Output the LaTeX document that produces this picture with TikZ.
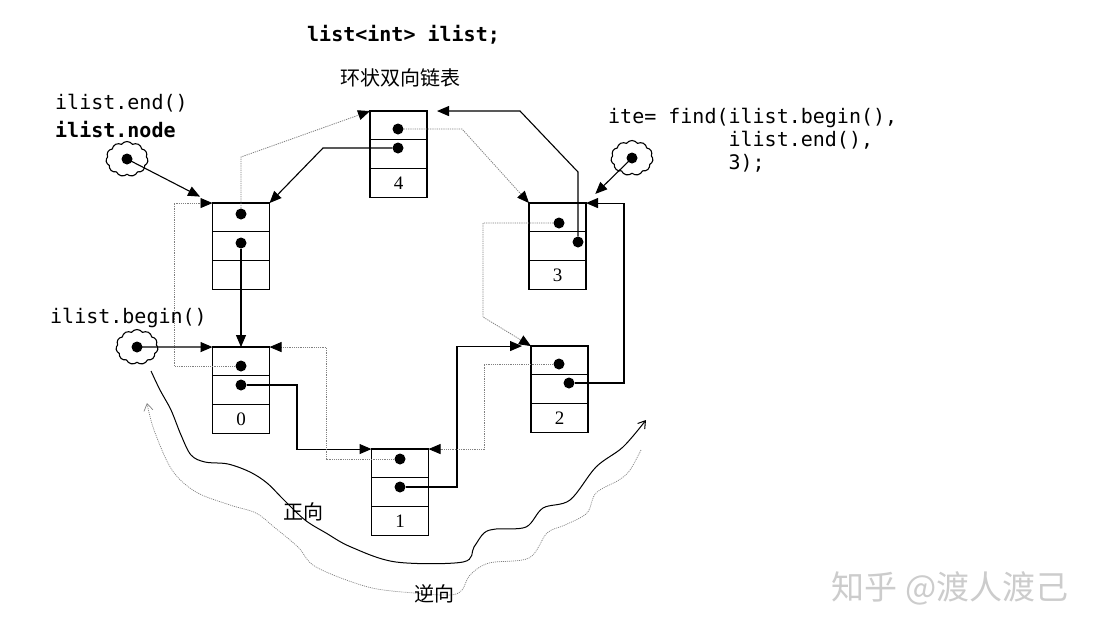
\documentclass[tikz,border=0pt]{standalone}
\usepackage{fontspec}
\setmainfont{Liberation Serif}
\setmonofont{DejaVu Sans Mono}
\newfontfamily\cjk{Noto Sans CJK SC}
\usetikzlibrary{positioning,arrows.meta,shapes.symbols}

\tikzset{
  cell/.style={draw, line width=1.3pt, minimum width=57pt, minimum height=28.7pt,
    inner sep=0pt, outer sep=0pt, font=\fontsize{19}{19}\selectfont},
  dot/.style={circle, fill, inner sep=0pt, minimum size=11pt},
  tip/.style={-{Triangle[length=12pt,width=10pt,color=black,fill=black]}},
  nxt/.style={tip, line width=1.1pt},
  prv/.style={tip, draw=gray, line width=0.8pt, dash pattern=on 1.2pt off 1pt},
  cloudy/.style={cloud, draw, cloud puffs=11, cloud puff arc=110, cloud ignores aspect,
    minimum width=42pt, minimum height=35pt, inner sep=0pt, line width=1.1pt},
  code/.style={font=\ttfamily\fontsize{20}{23}\selectfont, inner sep=0pt},
  cjklabel/.style={font=\cjk\fontsize{20}{20}\selectfont, inner sep=0pt},
}

\begin{document}
\begin{tikzpicture}[x=1pt, y=-1pt]
  \fill[white] (0,0) rectangle (1097,635);
  \useasboundingbox (0,0) rectangle (1097,635);

  % list nodes
  \foreach \n/\x/\y/\v in {e/241/217.4/{}, n4/398.5/125.4/4, n3/557.5/217.4/3,
                           n0/241/361.4/0, n1/400/463.4/1, n2/559.5/360.4/2} {
    \node[cell] (\n-a) at (\x,\y) {};
    \node[cell, below=0pt of \n-a] (\n-b) {};
    \node[cell, below=0pt of \n-b] (\n-c) {\v};
  }

  % pointer dots
  \node[dot] (e-p) at (241,214) {};
  \node[dot] (e-n) at (241,243) {};
  \node[dot] (n4-p) at (398,129) {};
  \node[dot] (n4-n) at (398,148) {};
  \node[dot] (n3-p) at (559,223) {};
  \node[dot] (n3-n) at (578,242) {};
  \node[dot] (n0-p) at (241,366) {};
  \node[dot] (n0-n) at (241,385) {};
  \node[dot] (n1-p) at (400,459) {};
  \node[dot] (n1-n) at (400,487) {};
  \node[dot] (n2-p) at (559,364) {};
  \node[dot] (n2-n) at (569,383) {};

  % next
  \draw[nxt] (e-n) -- (n0-a.north);
  \draw[nxt] (n0-n) -- ++(56,0) |- (n1-a.north west);
  \draw[nxt, shorten >=9pt] (n1-n) -- ++(57,0) |- (n2-a.north west);
  \draw[nxt] (n2-n) -- ++(55,0) |- (n3-a.north east);
  \draw[nxt, shorten >=10pt] (n3-n) -- ++(0,-70) -- ++(-58,-61) -- (n4-a.north east);
  \draw[nxt] (n4-n) -- ++(-75,0) -- (e-a.north east);

  % prev
  \draw[prv] (e-p) -- ++(0,-57) -- (n4-a.north west);
  \draw[prv] (n4-p) -- ++(64,0) -- (n3-a.north west);
  \draw[prv] (n3-p) -- ++(-76,0) -- ++(0,94) -- (n2-a.north west);
  \draw[prv] (n2-p) -- ++(-75,0) |- (n1-a.north east);
  \draw[prv] (n1-p) -- ++(-74,0) |- (n0-a.north east);
  \draw[prv] (n0-p) -- ++(-67,0) |- (e-a.north west);

  % iterators
  \node[cloudy] (c1) at (127,159) {};
  \node[dot] (c1-d) at (c1.center) {};
  \node[cloudy] (c2) at (632,158) {};
  \node[dot] (c2-d) at (c2.center) {};
  \node[cloudy] (c3) at (137,347) {};
  \node[dot] (c3-d) at (c3.center) {};
  \draw[nxt, shorten >=14pt] (c1-d.center) -- (e-a.north west);
  \draw[nxt, shorten >=13pt] (c2-d.center) -- (n3-a.north east);
  \draw[nxt] (c3-d.center) -- (n0-a.north west);

  % texts
  \node[code, anchor=west] (decl) at (307,35) {\bfseries list<int> ilist;};
  \node[cjklabel] (title) at (400,78) {环状双向链表};
  \node[code, anchor=west] (endtxt) at (55,103) {ilist.end()};
  \node[code, anchor=west] (nodetxt) at (55,130) {\bfseries ilist.node};
  \node[code, anchor=west] (begintxt) at (50,318) {ilist.begin()};
  \node[code, anchor=north west, align=left] (findtxt) at (608,108)
    {ite= find(ilist.begin(),\\\hphantom{ite= find(}ilist.end(),\\\hphantom{ite= find(}3);};

  % directions
  \draw[line width=1pt, -{Straight Barb[length=7pt,width=9pt]}] plot[smooth, tension=0.55] coordinates {
    (151,371) (160,390) (171,410) (181,435) (191,455) (205,462) (228,464) (250,472)
    (267,483) (284,500) (305,520) (326,533) (351,547) (396,562) (463,562) (474,547)
    (484,533) (496,529) (526,527) (543,508) (570,500) (596,467) (623,447) (646,420)};
  \draw[gray, line width=0.7pt, dash pattern=on 1pt off 1pt, -{Straight Barb[length=7pt,width=9pt]}]
    plot[smooth, tension=0.55] coordinates {
    (641,450) (630,470) (619,480) (596,493) (587,513) (565,525) (547,533) (529,558)
    (489,563) (470,575) (462,590) (450,595) (414,593) (368,587) (316,567) (298,547)
    (274,527) (256,513) (230,505) (196,492) (172,470) (154,430) (147,403)};
  \node[cjklabel] (fwd) at (303,512) {正向};
  \node[cjklabel] (bwd) at (434,594) {逆向};

  \node[font=\cjk\fontsize{33}{33}\selectfont, text=gray!40] (mark) at (950,588) {知乎 @渡人渡己};
\end{tikzpicture}
\end{document}
